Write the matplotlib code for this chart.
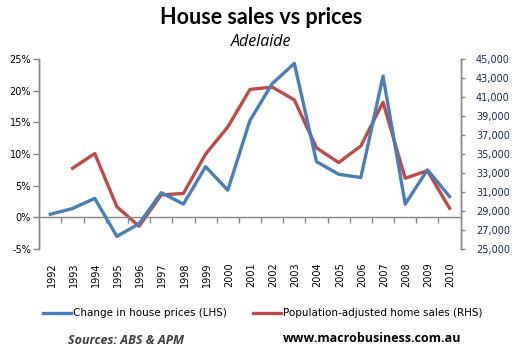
import numpy as np
import matplotlib.pyplot as plt
import matplotlib.transforms as mtransforms

years = [str(y) for y in range(1992, 2011)]

# change in house prices, % (left axis)
price_change = [0.5, 1.4, 3.0, -3.0, -1.0, 3.9, 2.1, 8.0, 4.3, 15.3, 21.1,
                24.3, 8.8, 6.8, 6.3, 22.3, 2.1, 7.5, 3.3]

# population-adjusted home sales (right axis), no value for 1992
home_sales = [np.nan, 33500, 35050, 29450, 27400, 30700, 30850, 35000, 37850,
              41800, 42050, 40700, 35650, 34100, 35850, 40450, 32450, 33250, 29300]

blue = '#4A7EBB'
red = '#BE4B48'
grey = '#868686'

fig = plt.figure(figsize=(5.17, 3.62), dpi=100)
ax = fig.add_axes([0.076, 0.312, 0.815, 0.525])
ax2 = ax.twinx()

x = np.arange(len(years))
ax.plot(x, price_change, color=blue, lw=2.4, solid_joinstyle='round', zorder=3)
ax2.plot(x, home_sales, color=red, lw=2.4, solid_joinstyle='round', zorder=3)

ax.set_xlim(-0.5, len(years) - 0.5)
ax.set_ylim(-5, 25)
ax.set_yticks(np.arange(-5, 26, 5))
ax.set_yticklabels([f'{v}%' for v in range(-5, 26, 5)], fontsize=7, color='black')
ax2.set_ylim(25000, 45000)
ax2.set_yticks(np.arange(25000, 45001, 2000))
ax2.set_yticklabels([f'{v:,}' for v in range(25000, 45001, 2000)], fontsize=7,
                    color='#1c2b55')

# x axis sits on the 0% line, ticks between categories
ax.spines['bottom'].set_position(('data', 0))
ax.set_xticks(np.arange(0.5, len(years) - 1, 1))
ax.set_xticklabels([])
ax.tick_params(axis='x', length=4, color=grey, width=1)
ax.tick_params(axis='y', length=4, color=grey, width=1, pad=2)
ax2.tick_params(axis='y', length=3, color=grey, width=1, pad=8)

for a in (ax, ax2):
    a.spines['top'].set_visible(False)
    for s in a.spines.values():
        s.set_color(grey)
        s.set_linewidth(1)
ax2.spines['bottom'].set_visible(False)
ax.set_zorder(ax2.get_zorder() + 1)
ax.patch.set_visible(False)

trans = mtransforms.blended_transform_factory(ax.transData, ax.transAxes)
for i, yr in enumerate(years):
    ax.text(i + 0.05, -0.07, yr, transform=trans, rotation=90, ha='center',
            va='top', fontsize=7)

fig.text(0.505, 0.952, 'House sales vs prices', ha='center', va='center',
         fontsize=15.5, fontweight='bold', family='Lato')
fig.text(0.505, 0.885, 'Adelaide', ha='center', va='center', fontsize=11.5,
         style='italic', family='Open Sans')

# legend drawn in figure coords
fig.add_artist(plt.Line2D([43 / 517, 71 / 517], [1 - 313 / 362] * 2, color=blue, lw=2.4))
fig.text(73 / 517, 1 - 313 / 362, 'Change in house prices (LHS)', va='center',
         fontsize=7.5)
fig.add_artist(plt.Line2D([253 / 517, 281 / 517], [1 - 313 / 362] * 2, color=red, lw=2.4))
fig.text(283 / 517, 1 - 313 / 362, 'Population-adjusted home sales (RHS)', va='center',
         fontsize=7.5)

fig.text(68 / 517, 1 - 341 / 362, 'Sources: ABS & APM', va='center', fontsize=9,
         fontweight='bold', style='italic', color='#404040', family='Open Sans')
fig.text(283 / 517, 1 - 338 / 362, 'www.macrobusiness.com.au', va='center', fontsize=9,
         fontweight='bold', family='Open Sans')

fig.savefig('out.png', dpi=100)
